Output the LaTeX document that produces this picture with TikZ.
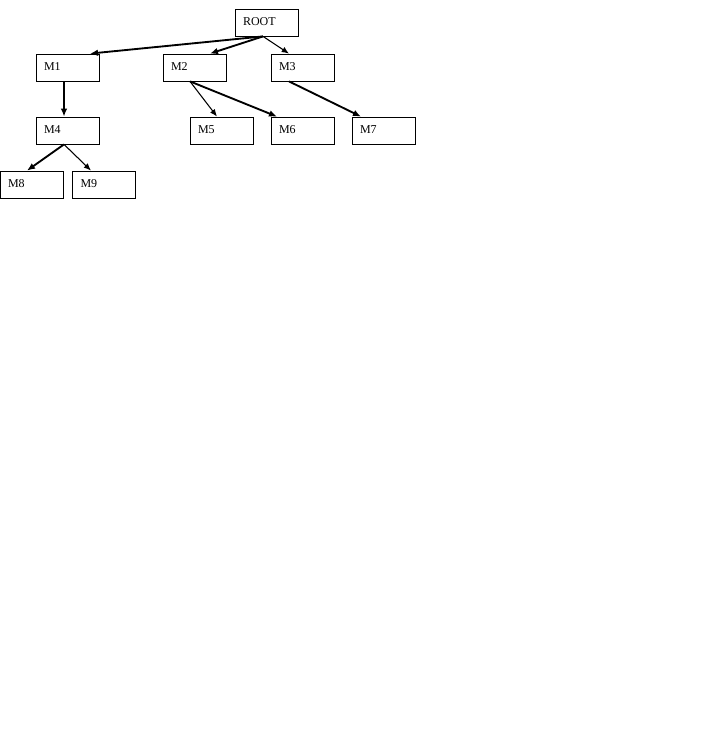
\documentclass[tikz,border=0pt]{standalone}
\usepackage{fontspec}
\setmainfont{Liberation Serif}
\usetikzlibrary{arrows.meta}
\begin{document}
\begin{tikzpicture}[x=0.75pt, y=-0.75pt]

    % Styles
    \tikzstyle{module} = [rectangle, draw=black, line width=0.6pt, minimum width=47.25pt, minimum height=20.25pt, inner xsep=6pt, inner ysep=0pt, text width=35.25pt, align=left, text height=6.3pt, text depth=2.5pt, font=\fontsize{9pt}{10pt}\selectfont]
    \tikzstyle{arrow} = [line width=1.4pt,-{Latex[length=6pt,width=5pt]}]
    \tikzstyle{thinarrow} = [line width=0.8pt,-{Latex[length=5.5pt,width=4.5pt]}]

    \useasboundingbox (0,0) rectangle (706,756);

    % Noeuds
    \node (root) [module] at (266.5,22.5) {ROOT};
    \node (m1) [module] at (67.5,67.5) {M1};
    \node (m2) [module] at (194.5,67.5) {M2};
    \node (m3) [module] at (302.5,67.5) {M3};
    \node (m4) [module] at (67.5,130.5) {M4};
    \node (m5) [module] at (221.5,130.5) {M5};
    \node (m6) [module] at (302.5,130.5) {M6};
    \node (m7) [module] at (383.5,130.5) {M7};
    \node (m8) [module] at (31.5,184.5) {M8};
    \node (m9) [module] at (104,184.5) {M9};

    % Flèches
    \draw [arrow] ([shift={(-3.5,0)}]root.south) -- ([shift={(22.5,0)}]m1.north);
    \draw [arrow] ([shift={(-3.5,0)}]root.south) -- ([shift={(15.5,0)}]m2.north);
    \draw [thinarrow] ([shift={(-3.5,0)}]root.south) -- ([shift={(-13.5,0)}]m3.north);
    \draw [arrow] ([shift={(-3.5,0)}]m1.south) -- ([shift={(-3.5,0)}]m4.north);
    \draw [thinarrow] ([shift={(-4.5,0)}]m2.south) -- ([shift={(-4.5,0)}]m5.north);
    \draw [arrow] ([shift={(-4.5,0)}]m2.south) -- ([shift={(-25.5,0)}]m6.north);
    \draw [arrow] ([shift={(-13.5,0)}]m3.south) -- ([shift={(-22.5,0)}]m7.north);
    \draw [arrow] ([shift={(-3.5,0)}]m4.south) -- ([shift={(-4.5,0)}]m8.north);
    \draw [thinarrow] ([shift={(-3.5,0)}]m4.south) -- ([shift={(-13,0)}]m9.north);
\end{tikzpicture}
\end{document}
